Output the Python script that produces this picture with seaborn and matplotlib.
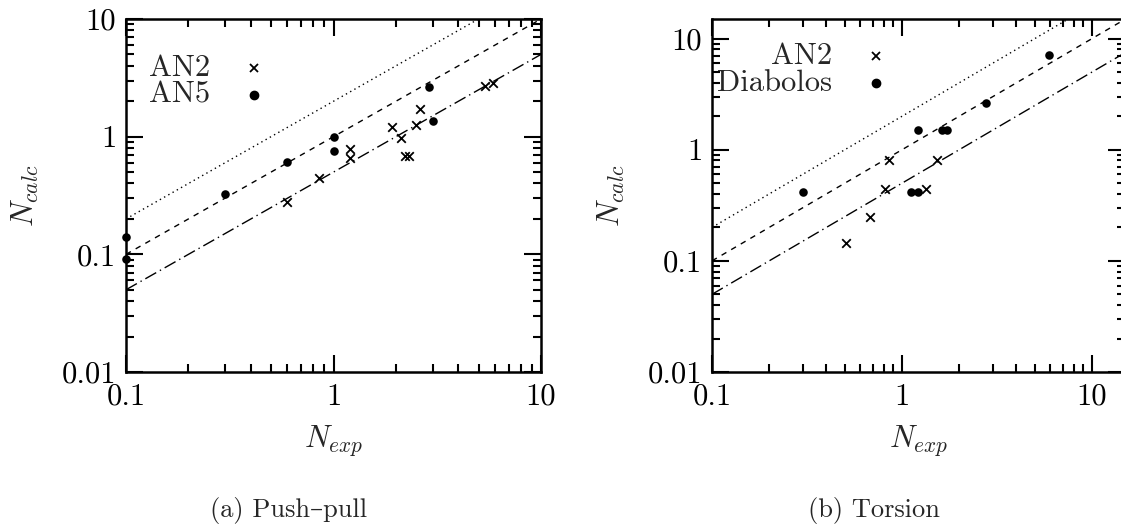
import matplotlib
matplotlib.use("Agg")
import matplotlib.pyplot as plt
import matplotlib.ticker as mticker
import seaborn as sns
import pandas as pd

# ===============================
# Data
# ===============================
# (a) Push-pull
pp_an2_exp = [0.6, 0.854, 1.20, 1.20, 1.91, 2.11, 2.21, 2.31, 2.50, 2.62, 5.37, 5.87]
pp_an2_calc = [0.278, 0.442, 0.78, 0.66, 1.21, 0.97, 0.69, 0.68, 1.26, 1.73, 2.69, 2.87]
pp_an5_exp = [0.1, 0.1, 0.30, 0.60, 1.0, 1.0, 2.89, 3.02]
pp_an5_calc = [0.141, 0.0906, 0.327, 0.605, 0.987, 0.76, 2.64, 1.37]

# (b) Torsion
to_an2_exp = [0.506, 0.68, 0.81, 0.855, 1.33, 1.53]
to_an2_calc = [0.146, 0.247, 0.44, 0.81, 0.44, 0.81]
to_dia_exp = [0.30, 1.11, 1.22, 1.22, 1.63, 1.73, 2.75, 5.94]
to_dia_calc = [0.42, 0.42, 0.42, 1.49, 1.49, 1.49, 2.65, 7.18]

# scatter bands: N_calc = factor * N_exp
band_factors = [2.0, 1.0, 0.5]
band_styles = [(0, (1, 2.5)), (0, (4, 4)), (0, (9, 3, 1, 3))]

tick_vals = [0.01, 0.1, 1, 10]
tick_text = ["0.01", "0.1", "1", "10"]

# ===============================
# Configuración general
# ===============================
sns.set_theme(style="ticks")
plt.rcParams["mathtext.fontset"] = "cm"
plt.rcParams["font.family"] = ["cmr10", "DejaVu Serif"]
plt.rcParams["axes.unicode_minus"] = False

fig = plt.figure(figsize=(11.21, 5.29), dpi=100)
W, H = 1121.0, 529.0


def make_axes(left_px, right_px, top_px=19, bottom_px=372):
    return fig.add_axes([left_px / W, 1 - bottom_px / H,
                         (right_px - left_px) / W, (bottom_px - top_px) / H])


def style_axes(ax, xmax, ymax):
    ax.set_xscale("log")
    ax.set_yscale("log")
    ax.set_xlim(0.1, xmax)
    ax.set_ylim(0.01, ymax)
    ax.set_facecolor("white")
    for s in ax.spines.values():
        s.set_visible(True)
        s.set_linewidth(1.8)
        s.set_color("black")
    ax.xaxis.set_major_locator(mticker.FixedLocator(tick_vals))
    ax.xaxis.set_major_formatter(mticker.FixedFormatter(tick_text))
    ax.yaxis.set_major_locator(mticker.FixedLocator(tick_vals))
    ax.yaxis.set_major_formatter(mticker.FixedFormatter(tick_text))
    ax.xaxis.set_minor_locator(mticker.LogLocator(base=10, subs=range(2, 10)))
    ax.yaxis.set_minor_locator(mticker.LogLocator(base=10, subs=range(2, 10)))
    ax.xaxis.set_minor_formatter(mticker.NullFormatter())
    ax.yaxis.set_minor_formatter(mticker.NullFormatter())
    ax.tick_params(which="both", direction="in", top=True, right=True,
                   colors="black", width=1.5)
    ax.tick_params(which="major", length=12, labelsize=22)
    ax.tick_params(axis="x", which="major", pad=8)
    ax.tick_params(axis="y", which="major", pad=7)
    ax.tick_params(which="minor", length=6)
    ax.grid(False)
    ax.set_xlabel(r"$N_{exp}$", fontsize=22)
    ax.set_ylabel(r"$N_{calc}$", fontsize=22)
    ax.xaxis.set_label_coords(0.5, -0.193)
    ax.xaxis.label.set_va("center")
    ax.yaxis.set_label_coords(-0.243, 0.5)
    ax.yaxis.label.set_va("center")


def draw_bands(ax, xmax):
    for f, ls in zip(band_factors, band_styles):
        band = pd.DataFrame({"x": [0.1, xmax], "y": [0.1 * f, xmax * f]})
        sns.lineplot(data=band, x="x", y="y", ax=ax, color="black",
                     linewidth=1.0, linestyle=ls)


def draw_key(ax, xt, xm, y, label, marker):
    ax.text(xt, y, label, transform=ax.transAxes, ha="right", va="center",
            fontsize=22)
    if marker == "x":
        ax.plot([xm], [y], marker="x", ms=6, mew=1.3, color="black",
                transform=ax.transAxes, linestyle="none")
    else:
        ax.plot([xm], [y], marker="o", ms=6, color="black",
                transform=ax.transAxes, linestyle="none")


def draw_points(ax, xs, ys, marker):
    df = pd.DataFrame({"x": xs, "y": ys})
    if marker == "x":
        sns.scatterplot(data=df, x="x", y="y", ax=ax, marker="x", s=38,
                        color="black", linewidth=1.3, clip_on=False, zorder=3)
    else:
        sns.scatterplot(data=df, x="x", y="y", ax=ax, marker="o", s=38,
                        color="black", edgecolor="black", linewidth=0,
                        clip_on=False, zorder=3)


# ===============================
# (a) Push-pull
# ===============================
ax1 = make_axes(126, 541)
draw_bands(ax1, 10)
draw_points(ax1, pp_an2_exp, pp_an2_calc, "x")
draw_points(ax1, pp_an5_exp, pp_an5_calc, "o")
style_axes(ax1, 10, 10)
draw_key(ax1, 0.202, 0.308, 0.861, "AN2", "x")
draw_key(ax1, 0.202, 0.308, 0.785, "AN5", "o")

# ===============================
# (b) Torsion
# ===============================
ax2 = make_axes(712, 1125.5)
draw_bands(ax2, 15)
draw_points(ax2, to_an2_exp, to_an2_calc, "x")
draw_points(ax2, to_dia_exp, to_dia_calc, "o")
style_axes(ax2, 15, 15)
draw_key(ax2, 0.290, 0.397, 0.895, "AN2", "x")
draw_key(ax2, 0.290, 0.397, 0.819, "Diabolos", "o")

fig.text(289 / W, 1 - 510 / H, "(a) Push–pull", ha="center", va="center",
         fontsize=19)
fig.text(874 / W, 1 - 510 / H, "(b) Torsion", ha="center", va="center",
         fontsize=19)

fig.savefig("out.png", dpi=100, facecolor="white")
